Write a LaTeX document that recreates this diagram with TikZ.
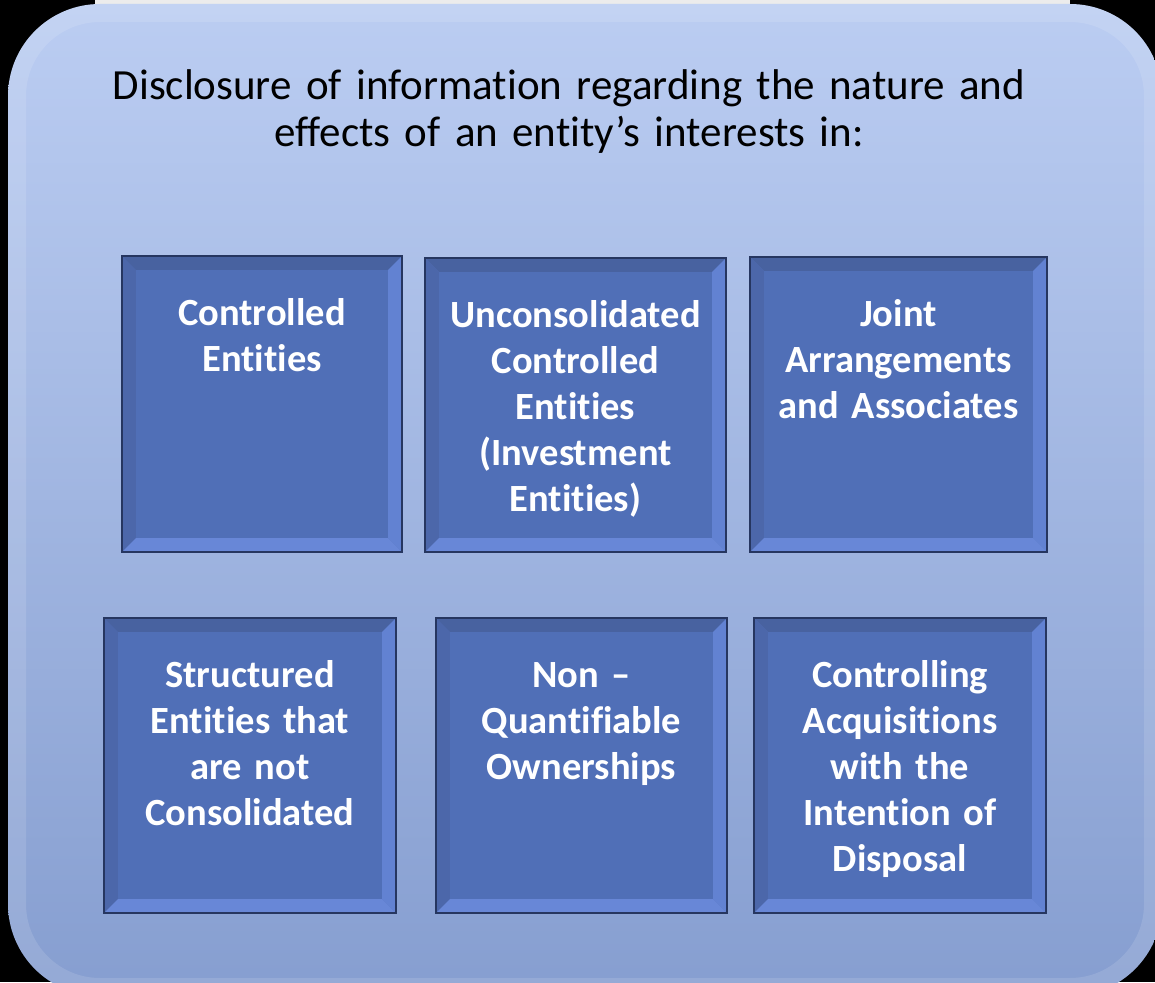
\documentclass[tikz,border=0pt]{standalone}
\usepackage{fontspec}
\setmainfont{Carlito}[Ligatures=NoCommon]
\usetikzlibrary{calc}
\definecolor{paneltop}{RGB}{187,205,242}
\definecolor{panelbot}{RGB}{134,158,208}
\definecolor{face}{RGB}{80,111,183}
\definecolor{bevtop}{RGB}{72,98,160}
\definecolor{bevleft}{RGB}{76,103,170}
\definecolor{bevright}{RGB}{98,130,210}
\definecolor{bevbot}{RGB}{104,135,215}
\definecolor{bord}{RGB}{38,54,96}
\tikzset{
  titletext/.style={inner sep=0pt, text width=1050pt, align=center, text=black,
    font=\fontsize{43}{47}\selectfont},
  boxtext/.style={inner sep=0pt, text width=285pt, align=center, text=white,
    font=\bfseries\fontsize{38.5}{46}\selectfont},
  boxnode/.style={inner sep=0pt, fill=face}
}
\newcommand\bevelbox[6]{%
  \node[boxnode, minimum width={(#4-#2)*1pt}, minimum height={(#5-#3)*1pt}]
     (#1) at ({(#2+#4)/2},{(#3+#5)/2}) {};
  \fill[bevtop] (#1.north west) -- (#1.north east) -- ($(#1.north east)+(-14,14)$) -- ($(#1.north west)+(14,14)$) -- cycle;
  \fill[bevleft] (#1.north west) -- ($(#1.north west)+(14,14)$) -- ($(#1.south west)+(14,-14)$) -- (#1.south west) -- cycle;
  \fill[bevright] (#1.north east) -- (#1.south east) -- ($(#1.south east)+(-14,-14)$) -- ($(#1.north east)+(-14,14)$) -- cycle;
  \fill[bevbot] (#1.south west) -- (#1.south east) -- ($(#1.south east)+(-14,-14)$) -- ($(#1.south west)+(14,-14)$) -- cycle;
  \draw[bord, line width=2.5pt] (#1.north west) rectangle (#1.south east);
  \node[boxtext, anchor=base] (#1t) at ({(#2+#4)/2},{#3+69}) {#6};
}
\begin{document}
\begin{tikzpicture}[x=1pt,y=-1pt]
\useasboundingbox (0,0) rectangle (1155,982);
\fill[black] (0,0) rectangle (1155,982);
\fill[white!85!gray] (95,0) rectangle (1070,4);
\path[top color=paneltop, bottom color=panelbot, rounded corners=92pt] (8,4) rectangle (1162,996);
\begin{scope}
  \clip[rounded corners=92pt] (8,4) rectangle (1162,996);
  \draw[white, opacity=0.12, line width=36pt, rounded corners=92pt] (8,4) rectangle (1162,996);
\end{scope}
\node[titletext, anchor=base] (title) at (569,99)
  {Disclosure of information regarding the nature and\\effects of an entity’s interests in:};
\bevelbox{b1}{122}{256}{402}{552}{Controlled\\Entities}
\bevelbox{b2}{425}{258}{726}{552}{Unconsolidated\\Controlled\\Entities\\(Investment\\Entities)}
\bevelbox{b3}{750}{257}{1047}{552}{Joint\\Arrangements\\and Associates}
\bevelbox{b4}{104}{618}{396}{913}{Structured\\Entities that\\are not\\Consolidated}
\bevelbox{b5}{436}{618}{727}{913}{Non –\\Quantifiable\\Ownerships}
\bevelbox{b6}{754}{618}{1046}{913}{Controlling\\Acquisitions\\with the\\Intention of\\Disposal}
\end{tikzpicture}
\end{document}
